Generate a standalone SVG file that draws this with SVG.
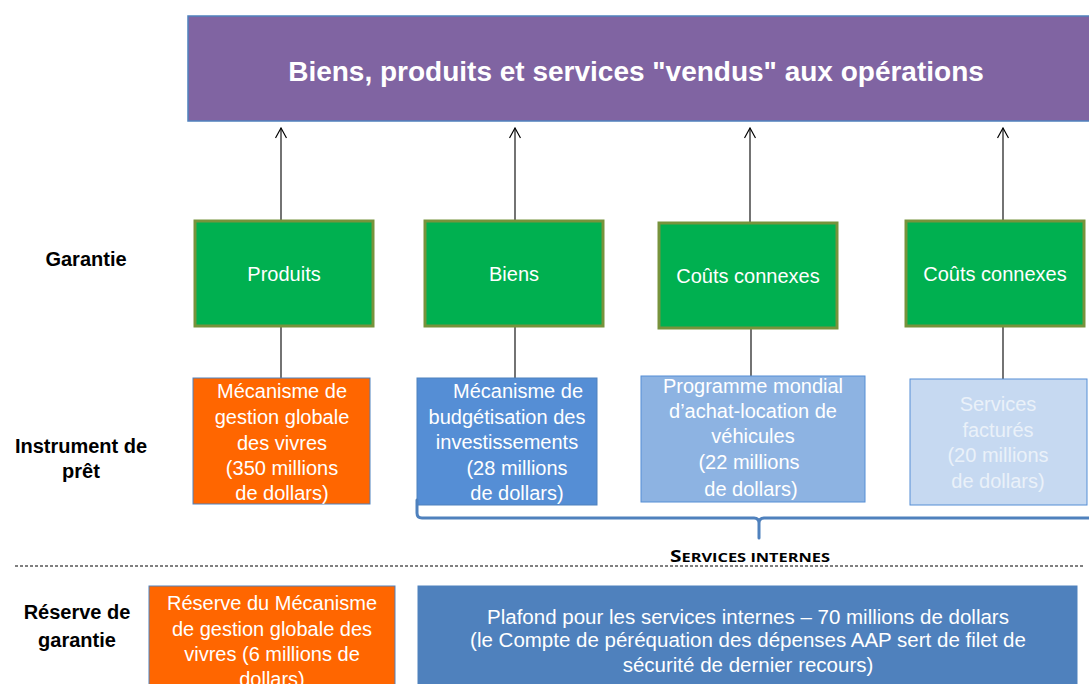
<svg xmlns="http://www.w3.org/2000/svg" width="1089" height="684" viewBox="0 0 1089 684">
<defs>
<marker id="ah" viewBox="0 0 12 12" refX="11" refY="6" markerWidth="12" markerHeight="12" markerUnits="userSpaceOnUse" orient="auto">
<path d="M1,0.5 L11,6 L1,11.5" fill="none" stroke="#000" stroke-width="1.2"/>
</marker>
<style>
.lbl{font-family:"Liberation Sans",Arial,sans-serif;font-weight:bold;font-size:20px;fill:#000;text-anchor:middle}
.wt{font-family:"Liberation Sans",Arial,sans-serif;font-size:20px;fill:#fff;text-anchor:middle}
.green{fill:#00B050;stroke:#77933C;stroke-width:3}
.conn{stroke:#000;stroke-width:1.1;fill:none}
</style>
</defs>
<rect width="1089" height="684" fill="#fff"/>
<g id="top">
<rect x="188" y="16" width="902" height="105" fill="#8064A2" stroke="#4F81BD" stroke-width="1.5"/>
<text x="636" y="81" font-family="Liberation Sans,Arial,sans-serif" font-weight="bold" font-size="28" fill="#fff" text-anchor="middle">Biens, produits et services "vendus" aux opérations</text>
</g>
<g id="labels">
<text class="lbl" x="86" y="266">Garantie</text>
<text class="lbl" x="81" y="453">Instrument de</text>
<text class="lbl" x="81" y="478">prêt</text>
<text class="lbl" x="77" y="619">Réserve de</text>
<text class="lbl" x="77" y="647">garantie</text>
</g>
<g id="connectors">
<line class="conn" x1="281" y1="220" x2="281" y2="128" marker-end="url(#ah)"/>
<line class="conn" x1="515" y1="220" x2="515" y2="128" marker-end="url(#ah)"/>
<line class="conn" x1="750" y1="222" x2="750" y2="128" marker-end="url(#ah)"/>
<line class="conn" x1="1003" y1="220" x2="1003" y2="128" marker-end="url(#ah)"/>
<line class="conn" x1="281" y1="326" x2="281" y2="378"/>
<line class="conn" x1="515" y1="326" x2="515" y2="378"/>
<line class="conn" x1="751" y1="328" x2="751" y2="376"/>
<line class="conn" x1="1003" y1="326" x2="1003" y2="379"/>
</g>
<g id="g1"><rect class="green" x="195" y="221" width="178" height="105"/><text class="wt" x="284" y="281">Produits</text></g>
<g id="g2"><rect class="green" x="425" y="221" width="178" height="105"/><text class="wt" x="514" y="281">Biens</text></g>
<g id="g3"><rect class="green" x="659" y="223" width="178" height="105"/><text class="wt" x="748" y="283">Coûts connexes</text></g>
<g id="g4"><rect class="green" x="906" y="221" width="178" height="105"/><text class="wt" x="995" y="281">Coûts connexes</text></g>
<g id="i1"><rect x="193" y="378" width="177" height="126" fill="#FF6600" stroke="#4F81BD" stroke-width="1"/>
<text class="wt"><tspan x="282" y="398">Mécanisme de</tspan><tspan x="282" y="424">gestion globale</tspan><tspan x="282" y="450">des vivres</tspan><tspan x="282" y="475">(350 millions</tspan><tspan x="282" y="500">de dollars)</tspan></text></g>
<g id="i2"><rect x="417" y="378" width="180" height="127" fill="#558ED5" stroke="#4F81BD" stroke-width="1"/>
<text class="wt"><tspan x="518" y="398">Mécanisme de</tspan><tspan x="507" y="424">budgétisation des</tspan><tspan x="507" y="449">investissements</tspan><tspan x="517" y="475">(28 millions</tspan><tspan x="517" y="500">de dollars)</tspan></text></g>
<g id="i3"><rect x="641" y="376" width="224" height="126" fill="#8DB3E2" stroke="#558ED5" stroke-width="1"/>
<text class="wt"><tspan x="753" y="393">Programme mondial</tspan><tspan x="753" y="418">d’achat-location de</tspan><tspan x="753" y="443">véhicules</tspan><tspan x="749" y="469">(22 millions</tspan><tspan x="751" y="496">de dollars)</tspan></text></g>
<g id="i4"><rect x="910" y="379" width="177" height="126" fill="#C6D9F1" stroke="#558ED5" stroke-width="1"/>
<text class="wt" style="fill:#EAF1F9"><tspan x="998" y="411">Services</tspan><tspan x="998" y="437">facturés</tspan><tspan x="998" y="462">(20 millions</tspan><tspan x="998" y="488">de dollars)</tspan></text></g>
<g id="brace">
<path d="M417,500 L417,513 Q417,518 422,518 L754,518 Q759,518 759,523 L759,538 M759,523 Q759,518 764,518 L1089,518" fill="none" stroke="#4F81BD" stroke-width="3" stroke-linecap="round"/>
<text x="750" y="562" font-family="Open Sans,Liberation Sans,sans-serif" font-weight="bold" fill="#000" text-anchor="middle" textLength="160" lengthAdjust="spacingAndGlyphs"><tspan font-size="16">S</tspan><tspan font-size="12.5">ERVICES INTERNES</tspan></text>
</g>
<line x1="15" y1="566" x2="1085" y2="566" stroke="#000" stroke-width="1" stroke-dasharray="3,2"/>
<g id="r1"><rect x="149" y="586" width="246" height="110" fill="#FF6600" stroke="#4F81BD" stroke-width="1"/>
<text class="wt"><tspan x="272" y="610">Réserve du Mécanisme</tspan><tspan x="272" y="636">de gestion globale des</tspan><tspan x="272" y="661">vivres (6 millions de</tspan><tspan x="272" y="686">dollars)</tspan></text></g>
<g id="r2"><rect x="418" y="586" width="659" height="110" fill="#4F81BD" stroke="#4F81BD" stroke-width="1"/>
<text class="wt" style="font-size:20.5px"><tspan x="748" y="624">Plafond pour les services internes – 70 millions de dollars</tspan><tspan x="748" y="647">(le Compte de péréquation des dépenses AAP sert de filet de</tspan><tspan x="748" y="672">sécurité de dernier recours)</tspan></text></g>
</svg>
